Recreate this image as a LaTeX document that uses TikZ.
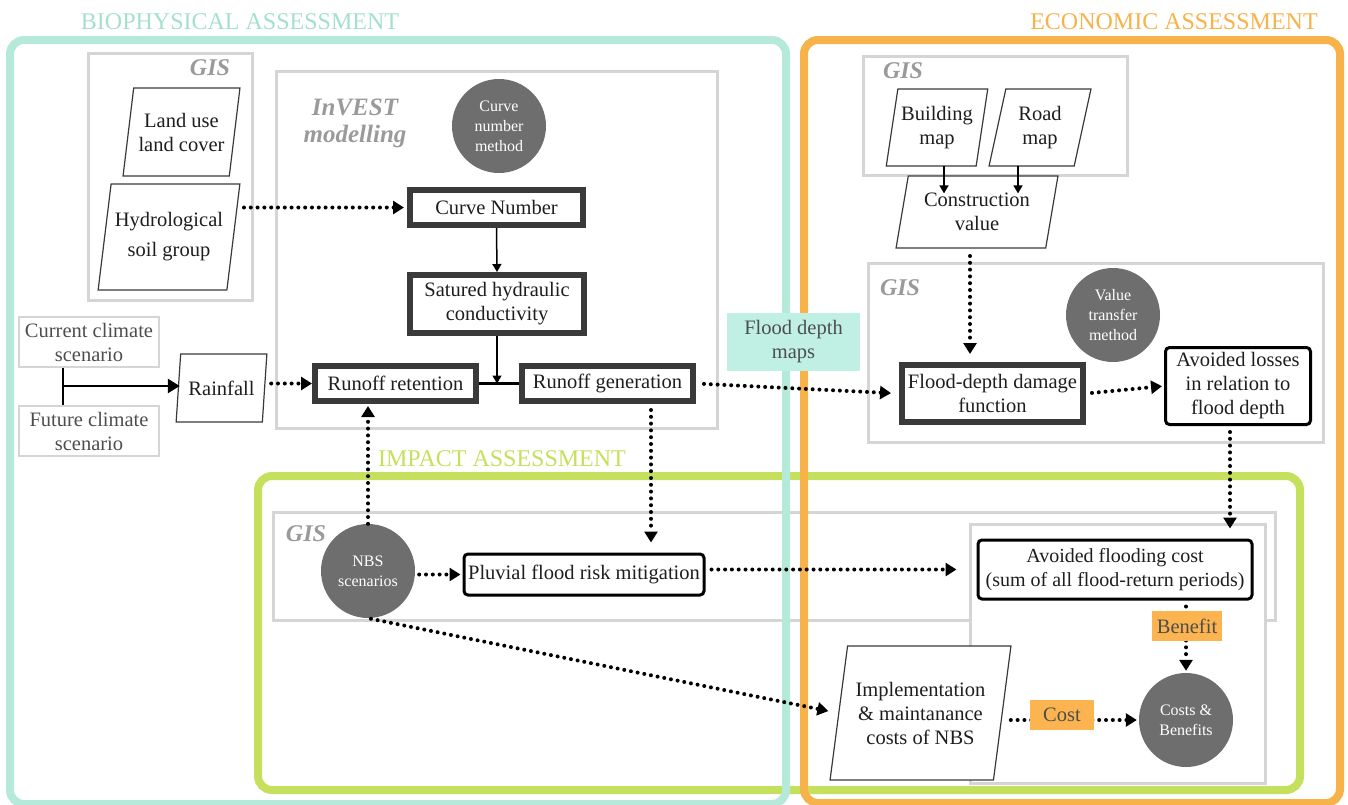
\documentclass[tikz,border=0pt]{standalone}
\usepackage{fontspec}
\setmainfont{Liberation Serif}
\usetikzlibrary{arrows.meta,shapes.geometric,calc}
\definecolor{teal1}{HTML}{B5EADB}
\definecolor{tealtxt}{HTML}{A3E0CD}
\definecolor{tealfill}{HTML}{BFF0E3}
\definecolor{orange1}{HTML}{F8B24A}
\definecolor{orangefill}{HTML}{FBB450}
\definecolor{green1}{HTML}{C5E05C}
\definecolor{frame1}{HTML}{D5D5D5}
\definecolor{darkb}{HTML}{3A3A3A}
\definecolor{circ}{HTML}{6E6E6E}
\definecolor{gistxt}{HTML}{9A9A9A}
\definecolor{txt}{HTML}{1E1E1E}
\definecolor{soft}{HTML}{4D4D4D}
\begin{document}
\begin{tikzpicture}[x=1pt,y=-1pt,
  every node/.style={font=\fontsize{20.5}{24}\selectfont, text=txt, align=center},
  bigframe/.style={line width=8pt, rounded corners=14pt},
  grayframe/.style={draw=frame1, line width=3pt},
  thickbox/.style={draw=darkb, line width=6pt, fill=white, inner sep=0pt},
  roundbox/.style={draw=black, line width=3pt, rounded corners=4pt, fill=white, inner sep=0pt},
  para/.style={draw=darkb, line width=1.2pt, fill=white, shape=trapezium, trapezium left angle=76, trapezium right angle=104, trapezium stretches=true, inner sep=0pt},
  graycirc/.style={circle, fill=circ, minimum size=94pt, inner sep=0pt, text=white, font=\fontsize{16}{20}\selectfont},
  scen/.style={draw=frame1, line width=1.5pt, text=soft, inner sep=0pt},
  gislbl/.style={text=gistxt, font=\fontsize{24}{26}\selectfont\bfseries\itshape},
  title/.style={font=\fontsize{24}{26}\selectfont},
  tag/.style={inner sep=0pt, text=soft},
  dotarrow/.style={line width=4pt, dash pattern=on 0pt off 6.8pt, line cap=round, -{Triangle[length=11pt,width=13pt]}},
  solidarrow/.style={line width=1.5pt, -{Triangle[length=8pt,width=9pt]}}
]
\useasboundingbox (0,0) rectangle (1348,804);
% outer frames
\draw[bigframe, draw=green1] (258,476) rectangle (1300,790);
% gray frames
\draw[grayframe] (88,53) rectangle (252,300);
\draw[grayframe] (276,71) rectangle (717,428);
\draw[grayframe] (863,56) rectangle (1127,175);
\draw[grayframe] (868,263) rectangle (1323,442);
\draw[grayframe] (273,512) rectangle (1275,620);
\draw[grayframe, fill=white] (970,524) rectangle (1265,783);
\draw[bigframe, draw=teal1] (10,40) rectangle (786,804);
\draw[bigframe, draw=orange1] (804,40) rectangle (1340,803);
% titles
\node[title, text=tealtxt] (tbio) at (240,22) {BIOPHYSICAL ASSESSMENT};
\node[title, text=orange1] (teco) at (1174,22) {ECONOMIC ASSESSMENT};
\node[title, text=green1] (timp) at (502,459) {IMPACT ASSESSMENT};
% GIS labels
\node[gislbl] (g1) at (210,68) {GIS};
\node[gislbl] (g2) at (903,71) {GIS};
\node[gislbl] (g3) at (900,288) {GIS};
\node[gislbl] (g4) at (306,534) {GIS};
\node[gislbl, font=\fontsize{25}{27}\selectfont\bfseries\itshape] (inv) at (355,123) {InVEST\\modelling};
% flood depth maps label
\node[fill=tealfill, minimum width=133pt, minimum height=58pt, inner sep=0pt, text=soft] (fdm) at (793.5,342) {Flood depth\\maps};
% biophysical nodes
\node[para, minimum width=117pt, minimum height=88pt] (luc) at (181.5,132) {Land use\\land cover};
\node[para, minimum width=142pt, minimum height=106pt, font=\fontsize{20.5}{30}\selectfont] (hyd) at (169,237) {Hydrological\\soil group};
\node[scen, minimum width=140pt, minimum height=50pt] (cur) at (89,342) {Current climate\\scenario};
\node[scen, minimum width=140pt, minimum height=50pt] (fut) at (89,431) {Future climate\\scenario};
\node[para, minimum width=91pt, minimum height=68pt] (rain) at (221.5,388) {Rainfall};
% InVEST nodes
\node[graycirc] (cnm) at (499,126) {Curve\\number\\method};
\node[thickbox, minimum width=173pt, minimum height=35pt] (cn) at (496.5,207.5) {Curve Number};
\node[thickbox, minimum width=174pt, minimum height=58pt] (sat) at (497,304) {Satured hydraulic\\conductivity};
\node[thickbox, minimum width=161pt, minimum height=35pt] (rr) at (395.5,383.5) {Runoff retention};
\node[thickbox, minimum width=171pt, minimum height=35pt] (rg) at (607.5,383.5) {Runoff generation};
% economic nodes
\node[para, minimum width=102pt, minimum height=77pt] (bld) at (937,127.5) {Building\\map};
\node[para, minimum width=102pt, minimum height=77pt] (road) at (1040,127.5) {Road\\map};
\node[para, minimum width=162pt, minimum height=72pt] (cv) at (977,212) {Construction\\value};
\node[graycirc] (vtm) at (1113,315) {Value\\transfer\\method};
\node[thickbox, minimum width=181pt, minimum height=57pt] (fdd) at (992.5,393.5) {Flood-depth damage\\function};
\node[roundbox, minimum width=145pt, minimum height=77pt] (al) at (1238,386) {Avoided losses\\in relation to\\flood depth};
% impact nodes
\node[graycirc] (nbs) at (368,571) {NBS\\scenarios};
\node[roundbox, minimum width=240pt, minimum height=41pt] (pf) at (584,574.5) {Pluvial flood risk mitigation};
\node[roundbox, minimum width=274pt, minimum height=59pt, font=\fontsize{20}{24}\selectfont] (afc) at (1115,569.5) {Avoided flooding cost\\(sum of all flood-return periods)};
\node[graycirc] (cb) at (1186,720) {Costs \&\\Benefits};
\node[para, minimum width=181pt, minimum height=134pt] (imp) at (920.5,713) {Implementation\\\& maintanance\\costs of NBS};
% helper coordinates
\coordinate (j) at (63,386);
\coordinate (bs) at (944,166);
\coordinate (rs) at (1018,166);
\coordinate (cvs) at (970,250);
\coordinate (als) at (1230,426);
\coordinate (rgs) at (651,404);
% connectors
\draw[line width=2pt] (j |- cur.south) -- (j |- fut.north);
\draw[line width=2.5pt, -{Triangle[length=12pt,width=14pt]}] (j) -- ($(rain.west |- j)+(2,0)$);
\draw[dotarrow, shorten <=6pt] (rain.east |- rr.west) -- (rr.west);
\draw[dotarrow, shorten <=10pt, shorten >=3pt] (hyd.east |- cn.west) -- (cn.west);
\draw[solidarrow] (cn.south) -- (sat.north);
\draw[line width=3.5pt, draw=black] (rr.east) -- (rg.west);
\draw[solidarrow] (sat.south) -- (sat.south |- rr.east);
\draw[dotarrow, shorten <=8pt, shorten >=8pt] (rg.east) -- (fdd.west);
\draw[dotarrow, shorten <=6pt, shorten >=2pt] (fdd.east) -- (al.west);
\draw[solidarrow] (bs) -- (bs |- cv.north) -- ++(0,18);
\draw[solidarrow] (rs) -- (rs |- cv.north) -- ++(0,18);
\draw[dotarrow, shorten <=6pt, shorten >=8pt] (cvs) -- (cvs |- fdd.north);
\draw[dotarrow, shorten <=6pt, shorten >=10pt] (als) -- (als |- afc.north);
\draw[dotarrow, shorten >=2pt] (nbs.north) -- (nbs.north |- rr.south);
\draw[dotarrow, shorten <=6pt, shorten >=10pt] (rgs) -- (rgs |- pf.north);
\draw[dotarrow, shorten <=4pt, shorten >=2pt] (nbs.east |- pf.west) -- (pf.west);
\draw[dotarrow, shorten <=6pt, shorten >=20pt] (pf.east |- afc.west) -- (afc.west);
\draw[dotarrow, shorten <=3pt, shorten >=10pt] (nbs.south) -- (imp.west);
\draw[dotarrow, shorten <=6pt, shorten >=2pt] (afc.south -| cb.north) -- (cb.north);
\draw[dotarrow, shorten <=8pt, shorten >=2pt] (imp.east |- cb.west) -- (cb.west);
\node[fill=orangefill, tag, minimum width=70pt, minimum height=30pt] (ben) at (1187,626) {Benefit};
\node[fill=orangefill, tag, minimum width=64pt, minimum height=30pt] (cost) at (1062,715) {Cost};
\end{tikzpicture}
\end{document}
